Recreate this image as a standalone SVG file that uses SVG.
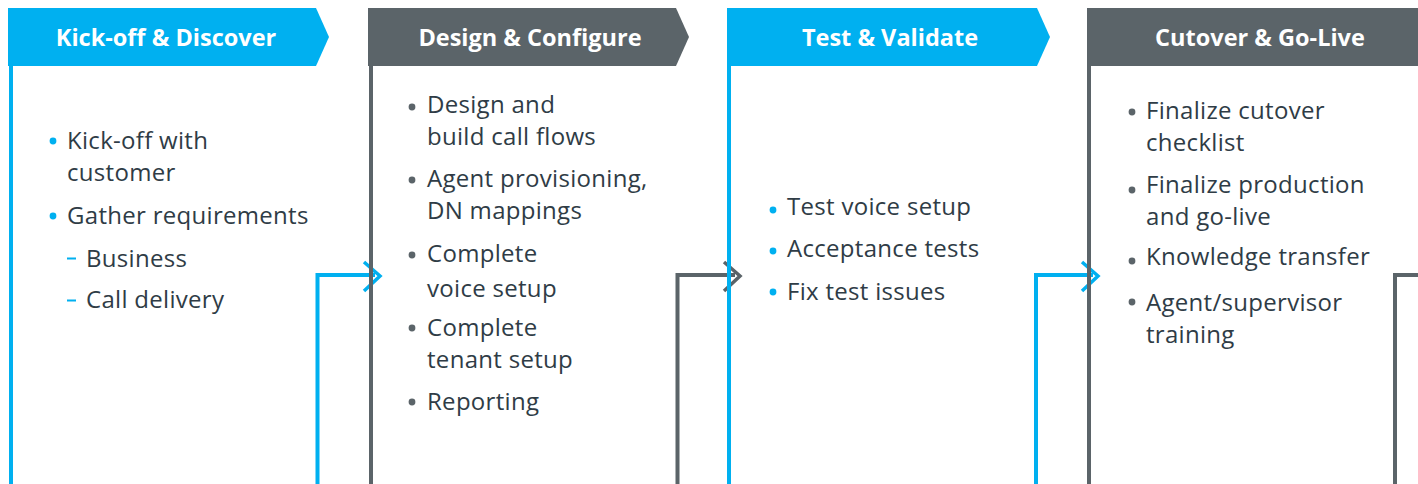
<svg xmlns="http://www.w3.org/2000/svg" width="1418" height="484" viewBox="0 0 1418 484">
<style>
.hdr{font-family:"Open Sans","Liberation Sans",sans-serif;font-weight:bold;font-size:23.5px;fill:#ffffff;text-anchor:middle}
.t{font-family:"Open Sans","Liberation Sans",sans-serif;font-size:24px;letter-spacing:0.3px;fill:#2f3c46}
.blue{fill:#00b0f0}
.gray{fill:#5b6469}
.lb{stroke:#00b0f0;stroke-width:4;fill:none}
.lg{stroke:#5b6469;stroke-width:4;fill:none}
.ch{stroke-width:3.5;fill:none;stroke-linecap:butt;stroke-linejoin:miter}
</style>
<rect width="1418" height="484" fill="#ffffff"/>
<g id="connectors">
<path class="lb" d="M317.5 484 V275 H375"/>
<path class="lb ch" d="M364 262 L380 276 L364 291"/>
<path class="lg" d="M677.5 484 V275 H735"/>
<path class="lg ch" d="M724 262 L740 276 L724 291"/>
<path class="lb" d="M1036 484 V275 H1093"/>
<path class="lb ch" d="M1082 262 L1098 276 L1082 291"/>
<path class="lg" d="M1395 484 V275 H1418"/>
</g>
<g id="phase1">
<polygon class="blue" points="8,8 316,8 329,37 316,66 8,66"/>
<text class="hdr" x="166" y="46">Kick-off &amp; Discover</text>
<line class="lb" x1="11" y1="66" x2="11" y2="484"/>
<circle class="blue" cx="53" cy="141" r="3.4"/>
<text class="t" x="67" y="149">Kick-off with</text>
<text class="t" x="67" y="181">customer</text>
<circle class="blue" cx="53" cy="216" r="3.4"/>
<text class="t" x="67" y="224">Gather requirements</text>
<rect class="blue" x="67" y="257.5" width="9" height="2"/>
<text class="t" x="86" y="267">Business</text>
<rect class="blue" x="67" y="299.5" width="9" height="2"/>
<text class="t" x="86" y="308">Call delivery</text>
</g>
<g id="phase2">
<polygon class="gray" points="368,8 676,8 689,37 676,66 368,66"/>
<text class="hdr" x="530" y="46">Design &amp; Configure</text>
<line class="lg" x1="371" y1="66" x2="371" y2="484"/>
<circle class="gray" cx="412" cy="107" r="3.4"/>
<text class="t" x="427" y="113">Design and</text>
<text class="t" x="427" y="145">build call flows</text>
<circle class="gray" cx="412" cy="180" r="3.4"/>
<text class="t" x="427" y="187">Agent provisioning,</text>
<text class="t" x="427" y="219">DN mappings</text>
<circle class="gray" cx="412" cy="255" r="3.4"/>
<text class="t" x="427" y="262">Complete</text>
<text class="t" x="427" y="297">voice setup</text>
<circle class="gray" cx="412" cy="328" r="3.4"/>
<text class="t" x="427" y="336">Complete</text>
<text class="t" x="427" y="368">tenant setup</text>
<circle class="gray" cx="412" cy="402" r="3.4"/>
<text class="t" x="427" y="410">Reporting</text>
</g>
<g id="phase3">
<polygon class="blue" points="727,8 1037,8 1050,37 1037,66 727,66"/>
<text class="hdr" x="890" y="46">Test &amp; Validate</text>
<line class="lb" x1="729" y1="66" x2="729" y2="484"/>
<circle class="blue" cx="773" cy="210" r="3.4"/>
<text class="t" x="787" y="215">Test voice setup</text>
<circle class="blue" cx="773" cy="251" r="3.4"/>
<text class="t" x="787" y="257">Acceptance tests</text>
<circle class="blue" cx="773" cy="292" r="3.4"/>
<text class="t" x="787" y="300">Fix test issues</text>
</g>
<g id="phase4">
<rect class="gray" x="1087" y="8" width="331" height="58"/>
<text class="hdr" x="1260" y="46">Cutover &amp; Go-Live</text>
<line class="lg" x1="1089" y1="66" x2="1089" y2="484"/>
<circle class="gray" cx="1132" cy="112" r="3.4"/>
<text class="t" x="1146" y="119">Finalize cutover</text>
<text class="t" x="1146" y="151">checklist</text>
<circle class="gray" cx="1132" cy="190" r="3.4"/>
<text class="t" x="1146" y="193">Finalize production</text>
<text class="t" x="1146" y="225">and go-live</text>
<circle class="gray" cx="1132" cy="261" r="3.4"/>
<text class="t" x="1146" y="265">Knowledge transfer</text>
<circle class="gray" cx="1132" cy="302" r="3.4"/>
<text class="t" x="1146" y="311">Agent/supervisor</text>
<text class="t" x="1146" y="343">training</text>
</g>
</svg>
